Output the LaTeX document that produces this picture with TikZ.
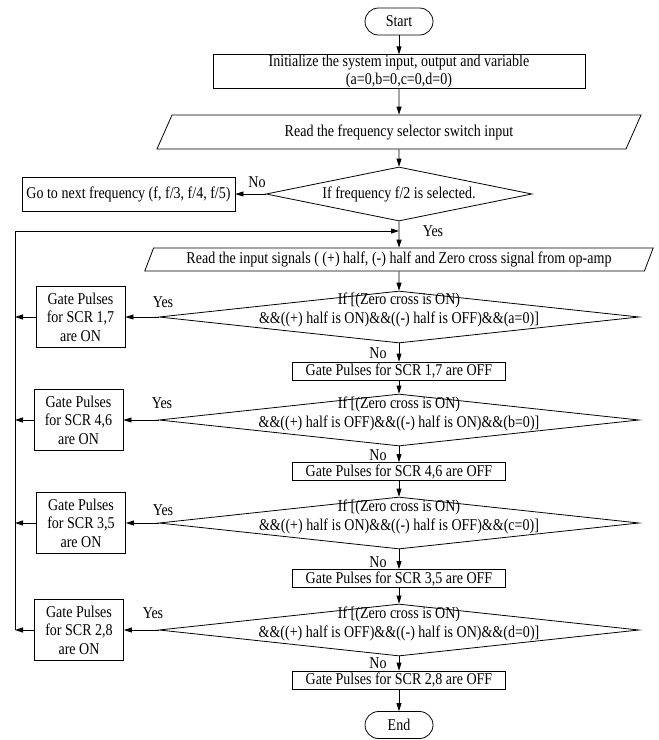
\documentclass[tikz,border=0pt]{standalone}
\usepackage{fontspec}
\setmainfont{Liberation Serif}[FakeStretch=0.85]
\usetikzlibrary{shapes.geometric,arrows.meta}

\begin{document}
\begin{tikzpicture}[x=1pt,y=-1pt,line width=.8pt,font=\fontsize{16.5}{18.5}\selectfont,
  >={Triangle[length=8pt,width=5pt]},
  term/.style={draw,rectangle,rounded corners=13.5pt,minimum width=68pt,minimum height=27pt,inner sep=1pt},
  box/.style={draw,rectangle,inner sep=1pt,align=center},
  io/.style={draw,trapezium,trapezium left angle=66,trapezium right angle=114,trapezium stretches=true,inner sep=1pt},
  dec/.style={draw,diamond,minimum width=480pt,minimum height=52pt,inner sep=0pt},
  dectext/.style={align=center,inner sep=0pt},
  onbox/.style={box,minimum width=89pt,minimum height=61pt},
  offbox/.style={box,minimum width=213pt,minimum height=18pt,inner ysep=0pt}]
\useasboundingbox (0,0) rectangle (659,740);
\coordinate (L) at (15,231);\coordinate (Y) at (399,231);
\node[term] (S) at (399,21.5) {Start};
\node[box,minimum width=372pt,minimum height=33pt,inner ysep=0pt] (I) at (399,71.5) {Initialize the system input, output and variable\\(a=0,b=0,c=0,d=0)};
\node[io,minimum width=485pt,minimum height=34pt] (R1) at (399,132) {Read the frequency selector switch input};
\node[draw,diamond,aspect=4.9,minimum width=266pt,minimum height=54pt,inner sep=0pt] (D1) at (399,194) {If frequency f/2 is selected.};
\node[box,minimum width=213pt,minimum height=34pt] (N) at (128.5,194) {Go to next frequency (f, f/3, f/4, f/5)};
\node[io,minimum width=509pt,minimum height=23pt] (R2) at (399,259.5) {Read the input signals ( (+) half, (-) half and Zero cross signal from op-amp};
% the four SCR checks
\node[dec] (D2) at (399,317) {};
\node[dectext] (T2) at ([yshift=7pt]D2.center) {If [(Zero cross is ON)\\\&\&((+) half is ON)\&\&((-) half is OFF)\&\&(a=0)]};
\node[onbox] (A2) at (80.5,317) {Gate Pulses\\for SCR 1,7\\are ON};
\node[offbox] (F2) at (399,371) {Gate Pulses for SCR 1,7 are OFF};
\node[dec] (D3) at (399,420) {};
\node[dectext] (T3) at ([yshift=6pt]D3.center) {If [(Zero cross is ON)\\\&\&((+) half is OFF)\&\&((-) half is ON)\&\&(b=0)]};
\node[onbox] (A3) at (78.5,420) {Gate Pulses\\for SCR 4,6\\are ON};
\node[offbox] (F3) at (399,471.5) {Gate Pulses for SCR 4,6 are OFF};
\node[dec] (D4) at (399,523) {};
\node[dectext] (T4) at ([yshift=6pt]D4.center) {If [(Zero cross is ON)\\\&\&((+) half is ON)\&\&((-) half is OFF)\&\&(c=0)]};
\node[onbox] (A4) at (81,523) {Gate Pulses\\for SCR 3,5\\are ON};
\node[offbox] (F4) at (399,578.5) {Gate Pulses for SCR 3,5 are OFF};
\node[dec] (D5) at (399,630) {};
\node[dectext] (T5) at ([yshift=6pt]D5.center) {If [(Zero cross is ON)\\\&\&((+) half is OFF)\&\&((-) half is ON)\&\&(d=0)]};
\node[onbox] (A5) at (79,630) {Gate Pulses\\for SCR 2,8\\are ON};
\node[offbox] (F5) at (399,680) {Gate Pulses for SCR 2,8 are OFF};
\node[term] (E) at (399,725) {End};
% yes / no
\node (n1) at (257,182) {No};\node (y1) at (433,231) {Yes};
\node (y2) at (163,302) {Yes};\node (n2) at (378,353) {No};
\node (y3) at (162,403) {Yes};\node (n3) at (378,455) {No};
\node (y4) at (163,510) {Yes};\node (n4) at (378,562) {No};
\node (y5) at (153,613) {Yes};\node (n5) at (378,663) {No};
% connectors
\draw[->] (S)--(I);
\draw[->] (I)--(R1);
\draw[->] (R1)--(D1);
\draw[->] (D1)--(N);
\draw[->] (D1)--(R2);
\draw[->] (R2)--(D2);
\draw[->] (D2)--(A2);\draw[->] (D2)--(F2);\draw[->] (F2)--(D3);
\draw[->] (D3)--(A3);\draw[->] (D3)--(F3);\draw[->] (F3)--(D4);
\draw[->] (D4)--(A4);\draw[->] (D4)--(F4);\draw[->] (F4)--(D5);
\draw[->] (D5)--(A5);\draw[->] (D5)--(F5);\draw[->] (F5)--(E);
\draw[->] (A2)--(A2-|L);\draw[->] (A3)--(A3-|L);
\draw[->] (A4)--(A4-|L);\draw[->] (A5)--(A5-|L);
\draw[->] (A5-|L)--(L)--(Y);
\end{tikzpicture}
\end{document}
